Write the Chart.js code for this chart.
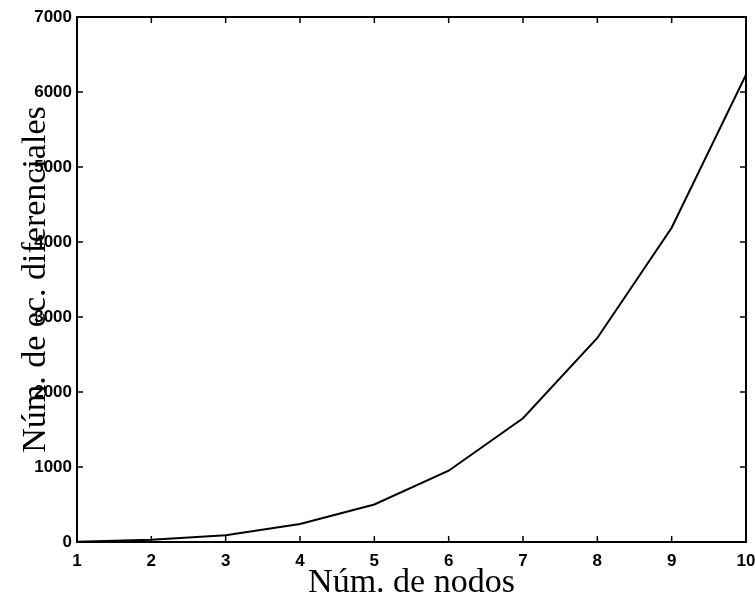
<!DOCTYPE html>
<html>
<head>
<meta charset="utf-8">
<script src="https://cdn.jsdelivr.net/npm/chart.js@4"></script>
<style>
  html, body { margin: 0; padding: 0; background: #fff; }
  #wrap { width: 755px; height: 599px; }
</style>
</head>
<body>
<div id="wrap"><canvas id="myChart"></canvas></div>
<script>
// data
const nodos = [1, 2, 3, 4, 5, 6, 7, 8, 9, 10];
const ecuaciones = [2, 30, 90, 240, 500, 950, 1650, 2720, 4190, 6230];
const xTicks = [1, 2, 3, 4, 5, 6, 7, 8, 9, 10];
const yTicks = [0, 1000, 2000, 3000, 4000, 5000, 6000, 7000];

const xTitle = 'Núm. de nodos';
const yTitle = 'Núm. de ec. diferenciales';

// frame, inward ticks and axis titles, matlab style
const framePlugin = {
    id: 'frame',
    afterDraw(chart) {
        const c = chart.ctx;
        const a = chart.chartArea;
        const xs = chart.scales.x, ys = chart.scales.y;
        c.save();
        c.strokeStyle = '#000';
        c.lineWidth = 2;
        c.strokeRect(a.left, a.top, a.right - a.left, a.bottom - a.top);
        c.lineWidth = 1.5;
        c.beginPath();
        xTicks.forEach(v => {
            const px = xs.getPixelForValue(v);
            c.moveTo(px, a.bottom); c.lineTo(px, a.bottom - 6);
            c.moveTo(px, a.top); c.lineTo(px, a.top + 6);
        });
        yTicks.forEach(v => {
            const py = ys.getPixelForValue(v);
            c.moveTo(a.left, py); c.lineTo(a.left + 6, py);
            c.moveTo(a.right, py); c.lineTo(a.right - 6, py);
        });
        c.stroke();

        c.fillStyle = '#000';
        c.font = '34px "Liberation Serif", serif';
        c.textAlign = 'center';
        c.textBaseline = 'alphabetic';
        c.fillText(xTitle, (a.left + a.right) / 2, 592);
        c.translate(45, (a.top + a.bottom) / 2);
        c.rotate(-Math.PI / 2);
        c.fillText(yTitle, 0, 0);
        c.restore();
    }
};

const tickFont = { family: '"Liberation Sans", Arial, sans-serif', size: 17, weight: 'bold' };

const ctx = document.getElementById('myChart').getContext('2d');

const myChart = new Chart(ctx, {
    type: 'line',
    data: {
        datasets: [{
            data: nodos.map((n, i) => ({ x: n, y: ecuaciones[i] })),
            borderColor: '#000',
            borderWidth: 2,
            pointRadius: 0,
            tension: 0,
            fill: false
        }]
    },
    options: {
        responsive: true,
        maintainAspectRatio: false,
        animation: false,
        layout: { padding: { top: 17, right: 9, left: 0, bottom: 0 } },
        plugins: {
            legend: { display: false },
            tooltip: { enabled: false }
        },
        scales: {
            x: {
                type: 'linear',
                min: 1,
                max: 10,
                afterBuildTicks: s => { s.ticks = xTicks.map(v => ({ value: v })); },
                afterFit: s => { s.height = 57; s.paddingLeft = 0; s.paddingRight = 0; },
                grid: { display: false, drawTicks: false },
                border: { display: false },
                ticks: {
                    padding: 9,
                    maxRotation: 0,
                    color: '#000',
                    font: tickFont,
                    callback: v => String(v)
                }
            },
            y: {
                min: 0,
                max: 7000,
                afterBuildTicks: s => { s.ticks = yTicks.map(v => ({ value: v })); },
                afterFit: s => { s.width = 77; s.paddingTop = 0; s.paddingBottom = 0; },
                grid: { display: false, drawTicks: false },
                border: { display: false },
                ticks: {
                    padding: 5,
                    color: '#000',
                    font: tickFont,
                    callback: v => String(v)
                }
            }
        }
    },
    plugins: [framePlugin]
});
</script>
</body>
</html>
